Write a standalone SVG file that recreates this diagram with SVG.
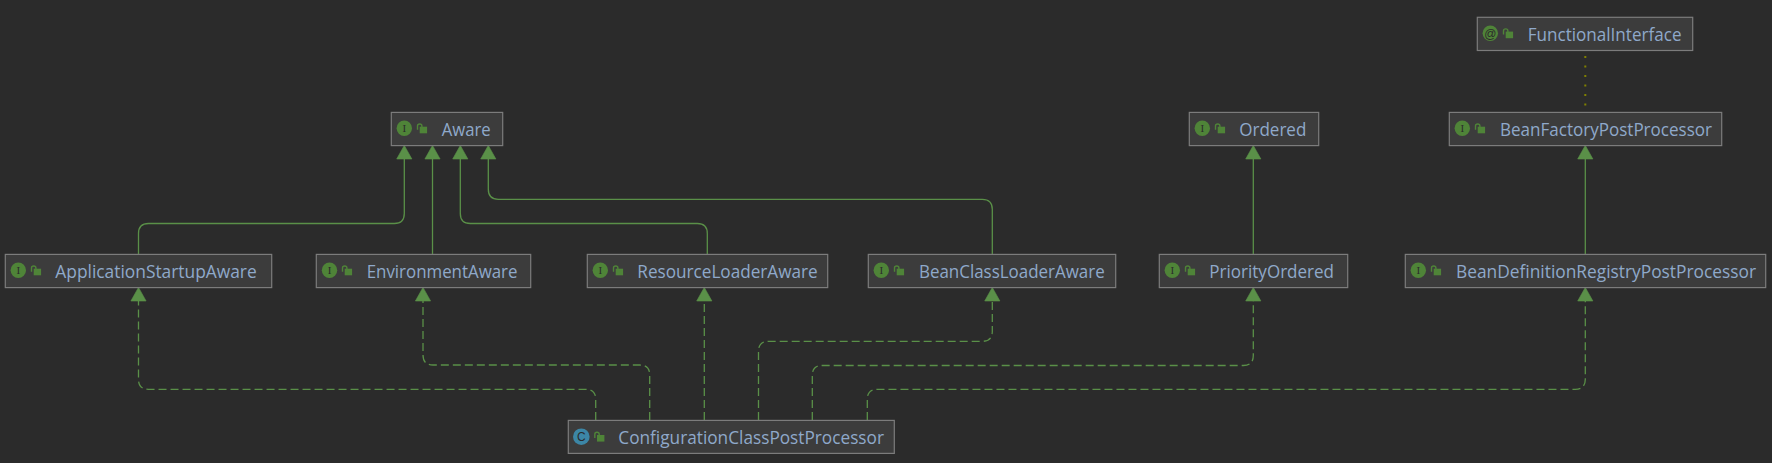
<svg xmlns="http://www.w3.org/2000/svg" xmlns:xlink="http://www.w3.org/1999/xlink" width="1772" height="463" viewBox="0 0 1772 463">
<style>
.box{fill:#3c3c3c;stroke:#7c7c7c;stroke-width:1.2}
.lbl{font-family:"Open Sans","Noto Sans","Liberation Sans",sans-serif;font-size:17.5px;fill:#8fa9ca}
.ic{fill:#4f8438}
.cc{fill:#3c86a6}
.let{font-family:"Liberation Serif",serif;font-size:11px;fill:#2b2b2b;text-anchor:middle}
.ltr{font-family:"Liberation Sans",sans-serif;font-size:12px;fill:#2b2b2b;text-anchor:middle}
.at{font-family:"Liberation Sans",sans-serif;font-size:12px;fill:#2b2b2b;text-anchor:middle}
.e{fill:none;stroke:#5a9048;stroke-width:1.3}
.d{stroke-dasharray:8 4}
.dot{fill:none;stroke:#808000;stroke-width:2;stroke-dasharray:2 7.5}
</style>
<defs>
<marker id="tri" markerUnits="userSpaceOnUse" markerWidth="16" markerHeight="16" viewBox="-1 -1 16 16" refX="0" refY="7" orient="auto" overflow="visible">
<path d="M0 -0.6L13.6 7L0 14.6Z" fill="#5a9048" stroke="#5a9048" stroke-width="0.6" stroke-linejoin="round"/>
</marker>
<g id="lock">
<rect x="0" y="0" width="7.4" height="6.6" fill="#4f8438"/>
<path d="M-2.2 3V-0.6Q-2.2-2.7 0-2.7Q2.2-2.7 2.2-0.6V0.5" fill="none" stroke="#4f8438" stroke-width="1.4"/>
</g>
</defs>
<rect width="1772" height="463" fill="#2b2b2b"/>
<g id="connectors">
<path class="e" marker-end="url(#tri)" d="M138.5 254V233.5Q138.5 223.5 148.5 223.5H394.3Q404.3 223.5 404.3 213.5V159"/>
<path class="e" marker-end="url(#tri)" d="M432.5 254V159"/>
<path class="e" marker-end="url(#tri)" d="M707.3 254V233.5Q707.3 223.5 697.3 223.5H470.3Q460.3 223.5 460.3 213.5V159"/>
<path class="e" marker-end="url(#tri)" d="M992.3 254V209.3Q992.3 199.3 982.3 199.3H498.3Q488.3 199.3 488.3 189.3V159"/>
<path class="e" marker-end="url(#tri)" d="M1253.3 254V159"/>
<path class="e" marker-end="url(#tri)" d="M1585.3 254V159"/>
<path class="e d" marker-end="url(#tri)" d="M595.7 420V399.3Q595.7 389.3 585.7 389.3H148.5Q138.5 389.3 138.5 379.3V301"/>
<path class="e d" marker-end="url(#tri)" d="M649.7 420V375Q649.7 365 639.7 365H433Q423 365 423 355V301"/>
<path class="e d" marker-end="url(#tri)" d="M704.3 420V301"/>
<path class="e d" marker-end="url(#tri)" d="M758.5 420V351.3Q758.5 341.3 768.5 341.3H982.3Q992.3 341.3 992.3 331.3V301"/>
<path class="e d" marker-end="url(#tri)" d="M812.3 420V375.5Q812.3 365.5 822.3 365.5H1243.3Q1253.3 365.5 1253.3 355.5V301"/>
<path class="e d" marker-end="url(#tri)" d="M867.3 420V399.3Q867.3 389.3 877.3 389.3H1575.3Q1585.3 389.3 1585.3 379.3V301"/>
<path class="dot" d="M1585.3 56V106"/>
</g>
<g id="n-functional"><rect class="box" x="1477.3" y="17.3" width="215.4" height="33.2"/><circle class="ic" cx="1490.3" cy="33.3" r="7.7"/><text class="at" x="1490.3" y="37.5">@</text><use xlink:href="#lock" href="#lock" x="1505.7" y="31.6"/><text class="lbl" x="1527.7" y="41" textLength="153.8" lengthAdjust="spacingAndGlyphs">FunctionalInterface</text></g>
<g id="n-aware"><rect class="box" x="391.3" y="112.4" width="111.4" height="33.2"/><circle class="ic" cx="404.3" cy="128.3" r="7.7"/><text class="let" x="404.3" y="132.2">I</text><use xlink:href="#lock" href="#lock" x="419.7" y="126.7"/><text class="lbl" x="441.7" y="135.7" textLength="49" lengthAdjust="spacingAndGlyphs">Aware</text></g>
<g id="n-ordered"><rect class="box" x="1189.3" y="112.4" width="129.4" height="33.2"/><circle class="ic" cx="1202.3" cy="128.3" r="7.7"/><text class="let" x="1202.3" y="132.2">I</text><use xlink:href="#lock" href="#lock" x="1217.7" y="126.7"/><text class="lbl" x="1239.3" y="135.7" textLength="67" lengthAdjust="spacingAndGlyphs">Ordered</text></g>
<g id="n-beanfactory"><rect class="box" x="1449.3" y="112.4" width="272.4" height="33.2"/><circle class="ic" cx="1462.3" cy="128.3" r="7.7"/><text class="let" x="1462.3" y="132.2">I</text><use xlink:href="#lock" href="#lock" x="1477.7" y="126.7"/><text class="lbl" x="1500" y="135.7" textLength="212" lengthAdjust="spacingAndGlyphs">BeanFactoryPostProcessor</text></g>
<g id="n-appstartup"><rect class="box" x="5.3" y="254.4" width="266.4" height="33.2"/><circle class="ic" cx="18.3" cy="270.3" r="7.7"/><text class="let" x="18.3" y="274.2">I</text><use xlink:href="#lock" href="#lock" x="33.7" y="268.7"/><text class="lbl" x="55.3" y="277.7" textLength="201.4" lengthAdjust="spacingAndGlyphs">ApplicationStartupAware</text></g>
<g id="n-environment"><rect class="box" x="316.3" y="254.4" width="214.4" height="33.2"/><circle class="ic" cx="329.5" cy="270.3" r="7.7"/><text class="let" x="329.5" y="274.2">I</text><use xlink:href="#lock" href="#lock" x="344.7" y="268.7"/><text class="lbl" x="366.7" y="277.7" textLength="150.8" lengthAdjust="spacingAndGlyphs">EnvironmentAware</text></g>
<g id="n-resource"><rect class="box" x="587.3" y="254.4" width="240.4" height="33.2"/><circle class="ic" cx="600.3" cy="270.3" r="7.7"/><text class="let" x="600.3" y="274.2">I</text><use xlink:href="#lock" href="#lock" x="615.7" y="268.7"/><text class="lbl" x="637.3" y="277.7" textLength="180.4" lengthAdjust="spacingAndGlyphs">ResourceLoaderAware</text></g>
<g id="n-beanclass"><rect class="box" x="868.3" y="254.4" width="247.4" height="33.2"/><circle class="ic" cx="881.3" cy="270.3" r="7.7"/><text class="let" x="881.3" y="274.2">I</text><use xlink:href="#lock" href="#lock" x="896.7" y="268.7"/><text class="lbl" x="919" y="277.7" textLength="185.7" lengthAdjust="spacingAndGlyphs">BeanClassLoaderAware</text></g>
<g id="n-priority"><rect class="box" x="1159.3" y="254.4" width="188.4" height="33.2"/><circle class="ic" cx="1172.3" cy="270.3" r="7.7"/><text class="let" x="1172.3" y="274.2">I</text><use xlink:href="#lock" href="#lock" x="1187.7" y="268.7"/><text class="lbl" x="1209.3" y="277.7" textLength="124.7" lengthAdjust="spacingAndGlyphs">PriorityOrdered</text></g>
<g id="n-registry"><rect class="box" x="1405.3" y="254.4" width="360.4" height="33.2"/><circle class="ic" cx="1418.3" cy="270.3" r="7.7"/><text class="let" x="1418.3" y="274.2">I</text><use xlink:href="#lock" href="#lock" x="1433.7" y="268.7"/><text class="lbl" x="1456" y="277.7" textLength="300" lengthAdjust="spacingAndGlyphs">BeanDefinitionRegistryPostProcessor</text></g>
<g id="n-config"><rect class="box" x="568.3" y="420.4" width="326" height="33"/><circle class="cc" cx="581.3" cy="436.7" r="8.3"/><text class="ltr" x="581.3" y="441">C</text><use xlink:href="#lock" href="#lock" x="597" y="435"/><text class="lbl" x="618.3" y="443.7" textLength="265.7" lengthAdjust="spacingAndGlyphs">ConfigurationClassPostProcessor</text></g>
</svg>
